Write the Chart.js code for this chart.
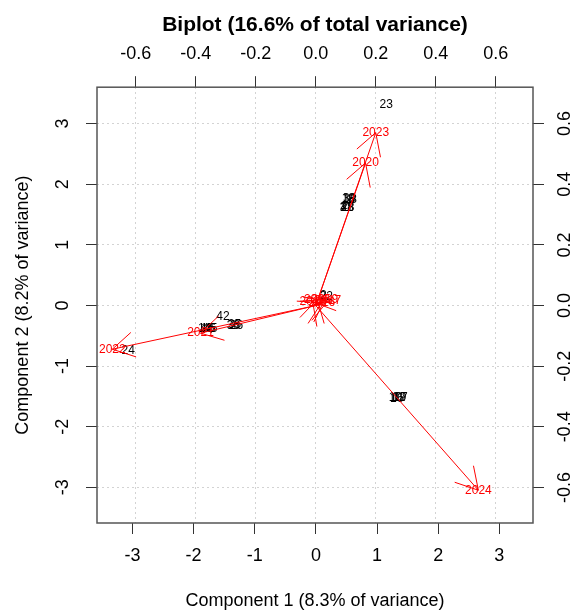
<!DOCTYPE html>
<html>
<head>
<meta charset="utf-8">
<script src="https://cdn.jsdelivr.net/npm/chart.js@4/dist/chart.umd.min.js"></script>
<style>
  body { margin: 0; background: #fff; }
  #wrap { width: 572px; height: 612px; }
</style>
</head>
<body>
<div id="wrap"><canvas id="biplot"></canvas></div>
<script>
// observation scores (component 1 / component 2), labelled by row name
const obsLabels = ["23",
	"18", "13", "38", "8",
	"28", "11", "48", "31",
	"10", "12", "17", "16", "19",
	"42",
	"14", "15", "45", "44", "46",
	"36", "26", "35",
	"24", "2", "22"];
const obsPC1 = [1.15,
	0.53, 0.56, 0.55, 0.58,
	0.52, 0.49, 0.51, 0.50,
	1.30, 1.35, 1.39, 1.32, 1.37,
	-1.52,
	-1.82, -1.77, -1.72, -1.79, -1.75,
	-1.35, -1.30, -1.33,
	-3.07, 0.12, 0.17];
const obsPC2 = [3.31,
	1.76, 1.75, 1.76, 1.75,
	1.61, 1.62, 1.61, 1.62,
	-1.53, -1.53, -1.53, -1.54, -1.53,
	-0.18,
	-0.39, -0.39, -0.39, -0.40, -0.39,
	-0.33, -0.33, -0.32,
	-0.74, 0.16, 0.15];

// variable loadings (drawn as arrows on the top / right axes)
const varLabels = ["2015", "2016", "2017", "2018", "2019", "2020", "2021", "2022", "2023", "2024"];
const varLoad1 = [0.005, 0.02, 0.04, -0.01, 0.03, 0.166, -0.384, -0.678, 0.2, 0.542];
const varLoad2 = [0.02, 0.01, 0.015, 0.012, 0.02, 0.47, -0.091, -0.144, 0.57, -0.609];

const scoreTicks = [-3, -2, -1, 0, 1, 2, 3];
const loadingTicks = [-0.6, -0.4, -0.2, 0, 0.2, 0.4, 0.6];

const FONT = '"Liberation Sans", Arial, sans-serif';
const RED = "#ff0000";

const obsData = obsPC1.map((v, i) => ({ x: v, y: obsPC2[i] }));

const arrowSets = varLabels.map((name, i) => ({
	label: name,
	data: [{ x: 0, y: 0 }, { x: varLoad1[i], y: varLoad2[i] }],
	xAxisID: "x2",
	yAxisID: "y2",
	showLine: true,
	borderColor: RED,
	borderWidth: 1,
	pointRadius: 0,
}));

// draws text labels, arrow heads, rotated y tick labels and the box
const biplotDraw = {
	id: "biplotDraw",
	beforeDatasetsDraw(chart) {
		const ctx = chart.ctx;
		const meta = chart.getDatasetMeta(0);
		ctx.save();
		ctx.font = "12px " + FONT;
		ctx.textAlign = "center";
		ctx.textBaseline = "middle";
		ctx.fillStyle = "#000";
		meta.data.forEach((pt, i) => ctx.fillText(obsLabels[i], pt.x, pt.y));
		ctx.restore();
	},
	afterDatasetsDraw(chart) {
		const ctx = chart.ctx;
		ctx.save();
		ctx.strokeStyle = RED;
		ctx.fillStyle = RED;
		ctx.lineWidth = 1;
		ctx.font = "12px " + FONT;
		ctx.textAlign = "center";
		ctx.textBaseline = "middle";
		const headLen = 25;
		const headAng = Math.PI / 6;
		for (let d = 1; d < chart.data.datasets.length; d++) {
			const pts = chart.getDatasetMeta(d).data;
			const a = pts[0], b = pts[1];
			const ang = Math.atan2(b.y - a.y, b.x - a.x);
			ctx.beginPath();
			ctx.moveTo(b.x - headLen * Math.cos(ang - headAng), b.y - headLen * Math.sin(ang - headAng));
			ctx.lineTo(b.x, b.y);
			ctx.lineTo(b.x - headLen * Math.cos(ang + headAng), b.y - headLen * Math.sin(ang + headAng));
			ctx.stroke();
			ctx.fillText(varLabels[d - 1], b.x, b.y);
		}
		ctx.restore();
	},
	afterDraw(chart) {
		const ctx = chart.ctx;
		const area = chart.chartArea;
		ctx.save();
		ctx.font = "18px " + FONT;
		ctx.fillStyle = "#000";
		ctx.textAlign = "center";
		ctx.textBaseline = "middle";
		const ys = chart.scales.y;
		ys.ticks.forEach((t) => {
			ctx.save();
			ctx.translate(area.left - 34, ys.getPixelForValue(t.value));
			ctx.rotate(-Math.PI / 2);
			ctx.fillText(String(t.value), 0, 0);
			ctx.restore();
		});
		const ys2 = chart.scales.y2;
		ys2.ticks.forEach((t) => {
			ctx.save();
			ctx.translate(area.right + 32, ys2.getPixelForValue(t.value));
			ctx.rotate(-Math.PI / 2);
			ctx.fillText(t.value.toFixed(1), 0, 0);
			ctx.restore();
		});
		ctx.strokeStyle = "#555";
		ctx.lineWidth = 1.5;
		ctx.strokeRect(area.left, area.top, area.right - area.left, area.bottom - area.top);
		ctx.restore();
	},
};

const tickFont = { family: FONT, size: 18 };

new Chart(document.getElementById("biplot"), {
	type: "scatter",
	data: {
		datasets: [
			{ label: "scores", data: obsData, xAxisID: "x", yAxisID: "y", pointRadius: 0 },
			...arrowSets,
		],
	},
	options: {
		responsive: true,
		maintainAspectRatio: false,
		animation: false,
		layout: { padding: 0 },
		plugins: {
			legend: { display: false },
			tooltip: { enabled: false },
			title: {
				display: true,
				text: "Biplot (16.6% of total variance)",
				fullSize: false,
				color: "#000",
				font: { family: FONT, size: 21, weight: "bold" },
				padding: { top: 13, bottom: 0 },
			},
		},
		scales: {
			x: {
				position: "bottom",
				min: -3.58,
				max: 3.55,
				afterBuildTicks: (s) => { s.ticks = scoreTicks.map((v) => ({ value: v })); },
				afterFit: (s) => { s.height = 89; },
				ticks: { color: "#000", font: tickFont, padding: 11, callback: (v) => String(v) },
				grid: { drawOnChartArea: false, tickLength: 11, tickColor: "#333" },
				border: { display: false },
				title: {
					display: true,
					text: "Component 1 (8.3% of variance)",
					color: "#000",
					font: tickFont,
					padding: { top: 0, bottom: 0 },
				},
			},
			x2: {
				position: "top",
				min: -0.729,
				max: 0.724,
				afterBuildTicks: (s) => { s.ticks = loadingTicks.map((v) => ({ value: v })); },
				afterFit: (s) => { s.height = 49; },
				ticks: { color: "#000", font: tickFont, padding: 11, callback: (v) => v.toFixed(1) },
				grid: { color: "#d3d3d3", tickLength: 11, tickColor: "#333" },
				border: { display: false, dash: [2, 3] },
			},
			y: {
				position: "left",
				min: -3.59,
				max: 3.6,
				afterBuildTicks: (s) => { s.ticks = scoreTicks.map((v) => ({ value: v })); },
				afterFit: (s) => { s.width = 97; },
				ticks: { display: false },
				grid: { drawOnChartArea: false, tickLength: 11, tickColor: "#333" },
				border: { display: false },
				title: {
					display: true,
					text: "Component 2 (8.2% of variance)",
					color: "#000",
					font: tickFont,
					padding: { top: 12, bottom: 0 },
				},
			},
			y2: {
				position: "right",
				min: -0.717,
				max: 0.72,
				afterBuildTicks: (s) => { s.ticks = loadingTicks.map((v) => ({ value: v })); },
				afterFit: (s) => { s.width = 39; },
				ticks: { display: false },
				grid: { color: "#d3d3d3", tickLength: 11, tickColor: "#333" },
				border: { display: false, dash: [2, 3] },
			},
		},
	},
	plugins: [biplotDraw],
});
</script>
</body>
</html>
